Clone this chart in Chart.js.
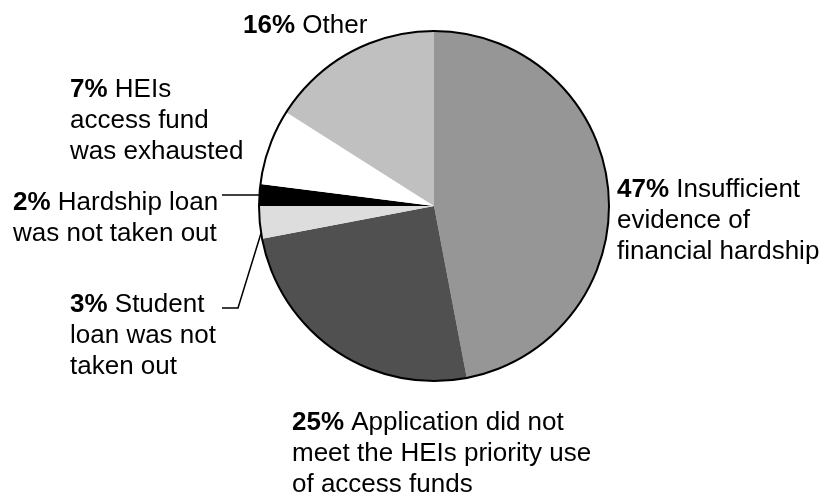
<!DOCTYPE html>
<html>
<head>
<meta charset="utf-8">
<script src="https://cdn.jsdelivr.net/npm/chart.js@4.4.1/dist/chart.umd.min.js"></script>
<style>
  html, body { margin: 0; padding: 0; background: #fff; }
  #wrap { width: 824px; height: 494px; }
</style>
</head>
<body>
<div id="wrap"><canvas id="pieChart" width="824" height="494"></canvas></div>
<script>
// data, slices go clockwise from 12 o'clock
var reasons = [
    'Insufficient evidence of financial hardship',
    'Application did not meet the HEIs priority use of access funds',
    'Student loan was not taken out',
    'Hardship loan was not taken out',
    'HEIs access fund was exhausted',
    'Other'
];
var shares = [47, 25, 3, 2, 7, 16];
var sliceColours = ['#969696', '#505050', '#dddddd', '#000000', '#ffffff', '#c0c0c0'];

// wrapped label lines (first line gets the bold percentage in front)
var labelLines = [
    ['Insufficient', 'evidence of', 'financial hardship'],
    ['Application did not', 'meet the HEIs priority use', 'of access funds'],
    ['Student', 'loan was not', 'taken out'],
    ['Hardship loan', 'was not taken out'],
    ['HEIs', 'access fund', 'was exhausted'],
    ['Other']
];

// where each label block sits (left x, first baseline y)
var labelPos = [
    [617, 197], [292, 430], [70, 312], [13, 210], [70, 97], [243, 33]
];

var FONT = 'Liberation Sans, Arial, sans-serif';
var FSIZE = 26;
var LINE_H = 31;

function edgePoint(arc, frac) {
    // point on the outer rim, frac = 0..1 through the slice
    var a = arc.startAngle + (arc.endAngle - arc.startAngle) * frac;
    return [arc.x + Math.cos(a) * arc.outerRadius, arc.y + Math.sin(a) * arc.outerRadius];
}

var pieDecor = {
    id: 'pieDecor',
    afterDatasetsDraw: function (chart) {
        var ctx = chart.ctx;
        var arcs = chart.getDatasetMeta(0).data;
        var a0 = arcs[0];

        // outline only round the rim
        ctx.save();
        ctx.beginPath();
        ctx.arc(a0.x, a0.y, a0.outerRadius, 0, Math.PI * 2);
        ctx.lineWidth = 2;
        ctx.strokeStyle = '#000';
        ctx.stroke();

        // leader lines
        ctx.lineWidth = 1.5;
        var p = edgePoint(arcs[3], 0.5);
        ctx.beginPath();
        ctx.moveTo(222, 195);
        ctx.lineTo(p[0], 195);
        ctx.stroke();

        p = edgePoint(arcs[2], 0.18);
        ctx.beginPath();
        ctx.moveTo(222, 308);
        ctx.lineTo(238, 308);
        ctx.lineTo(p[0], p[1]);
        ctx.stroke();

        // labels
        ctx.fillStyle = '#000';
        ctx.textBaseline = 'alphabetic';
        ctx.textAlign = 'left';
        for (var i = 0; i < shares.length; i++) {
            var x = labelPos[i][0];
            var y = labelPos[i][1];
            var pct = shares[i] + '%';
            ctx.font = 'bold ' + FSIZE + 'px ' + FONT;
            ctx.fillText(pct, x, y);
            var w = ctx.measureText(pct + ' ').width;
            ctx.font = FSIZE + 'px ' + FONT;
            ctx.fillText(labelLines[i][0], x + w, y);
            for (var j = 1; j < labelLines[i].length; j++) {
                ctx.fillText(labelLines[i][j], x, y + LINE_H * j);
            }
        }
        ctx.restore();
    }
};

var pieChart = new Chart(document.getElementById('pieChart'), {
    type: 'pie',
    data: {
        labels: reasons,
        datasets: [{
            data: shares,
            backgroundColor: sliceColours,
            borderWidth: 0
        }]
    },
    options: {
        responsive: false,
        animation: false,
        layout: {
            padding: { left: 259, right: 215, top: 31, bottom: 113 }
        },
        plugins: {
            legend: { display: false },
            tooltip: { enabled: false }
        }
    },
    plugins: [pieDecor]
});
</script>
</body>
</html>
